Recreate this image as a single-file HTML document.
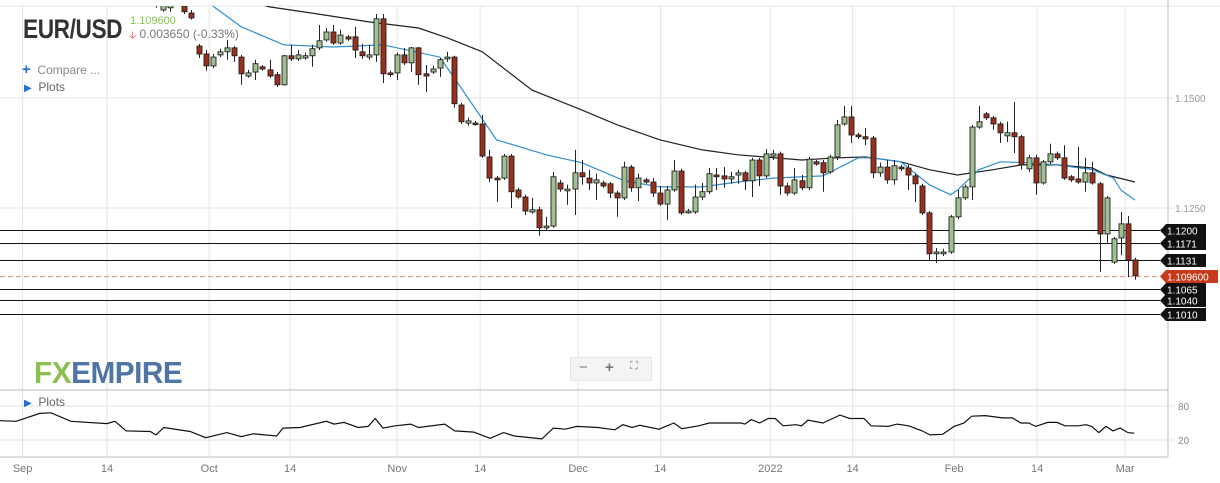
<!DOCTYPE html>
<html><head><meta charset="utf-8">
<style>
html,body{margin:0;padding:0;background:#fff;}
body{width:1220px;height:483px;overflow:hidden;position:relative;font-family:"Liberation Sans",sans-serif;}
svg{position:absolute;left:0;top:0;}
.hdr{position:absolute;}
</style></head>
<body>
<svg id="chart" width="1220" height="483"></svg>
<div class="hdr" style="left:23px;top:14px;font-size:27px;font-weight:bold;color:#333;letter-spacing:-0.5px;transform:scaleX(0.84);transform-origin:0 0;">EUR/USD</div>
<div class="hdr" style="left:130px;top:15px;font-size:11px;color:#8bc34a;">1.109600</div>
<div class="hdr" style="left:129px;top:27px;font-size:12px;color:#777;"><span style="color:#e53935;font-size:10px;">&#129123;</span> 0.003650 (-0.33%)</div>
<div class="hdr" style="left:22px;top:61px;font-size:12px;color:#888;"><span style="color:#1e6fd9;font-weight:bold;font-size:15px;">+</span>&nbsp; Compare ...</div>
<div class="hdr" style="left:24px;top:80px;font-size:12px;color:#666;"><span style="color:#1e6fd9;font-size:10px;">&#9654;</span>&nbsp;&nbsp;Plots</div>
<div class="hdr" style="left:34px;top:355px;font-size:31px;font-weight:bold;letter-spacing:-0.5px;transform:scaleX(0.96);transform-origin:0 0;"><span style="color:#8cc152;">FX</span><span style="color:#4f74a6;">EMPIRE</span></div>
<div class="hdr" style="left:570px;top:357px;width:80px;height:22px;background:#f4f4f4;border:1px solid #e6e6e6;font-size:15px;color:#777;">
<span style="position:absolute;left:8px;top:1px;">&minus;</span>
<span style="position:absolute;left:34px;top:1px;font-weight:bold;">+</span>
<span style="position:absolute;left:59px;top:2px;font-size:11px;">&#x26F6;</span></div>
<div class="hdr" style="left:24px;top:395px;font-size:12px;color:#666;"><span style="color:#1e6fd9;font-size:10px;">&#9654;</span>&nbsp;&nbsp;Plots</div>
<script>
// ---- data ----
const openP=[1.1746,1.1700,1.1705,1.1734,1.1709,1.1693,1.1618,1.1600,1.1573,1.1598,1.1605,1.1614,1.1593,1.1550,1.1559,1.1571,1.1564,1.1553,1.1530,1.1596,1.1589,1.1591,1.1596,1.1614,1.1632,1.1650,1.1625,1.1639,1.1639,1.1605,1.1593,1.1598,1.1680,1.1557,1.1557,1.1598,1.1580,1.1614,1.1555,1.1559,1.1568,1.1589,1.1593,1.1484,1.1443,1.1443,1.1441,1.1366,1.1318,1.1318,1.1368,1.1291,1.1275,1.1241,1.1246,1.1205,1.1209,1.1307,1.1289,1.1293,1.1330,1.1318,1.1307,1.1307,1.1305,1.1284,1.1273,1.1343,1.1296,1.1314,1.1309,1.1284,1.1259,1.1291,1.1334,1.1239,1.1241,1.1275,1.1287,1.1325,1.1323,1.1316,1.1325,1.1330,1.1312,1.1359,1.1323,1.1368,1.1373,1.1300,1.1284,1.1312,1.1296,1.1355,1.1353,1.1332,1.1366,1.1441,1.1457,1.1416,1.1412,1.1409,1.1330,1.1343,1.1314,1.1343,1.1341,1.1323,1.1300,1.1239,1.1146,1.1146,1.1150,1.1230,1.1273,1.1298,1.1434,1.1464,1.1455,1.1441,1.1414,1.1421,1.1412,1.1339,1.1364,1.1307,1.1355,1.1373,1.1364,1.1321,1.1316,1.1309,1.1330,1.1305,1.1191,1.1127,1.1182,1.1214,1.1132];
const closeP=[1.1712,1.1734,1.1741,1.1718,1.1696,1.1682,1.1600,1.1573,1.1593,1.1605,1.1614,1.1596,1.1555,1.1557,1.1578,1.1566,1.1550,1.1530,1.1596,1.1589,1.1598,1.1596,1.1612,1.1630,1.1650,1.1625,1.1643,1.1634,1.1609,1.1596,1.1598,1.1680,1.1555,1.1553,1.1598,1.1580,1.1614,1.1553,1.1550,1.1566,1.1587,1.1593,1.1487,1.1446,1.1448,1.1441,1.1368,1.1318,1.1314,1.1368,1.1287,1.1275,1.1243,1.1246,1.1205,1.1209,1.1321,1.1293,1.1293,1.1330,1.1321,1.1307,1.1314,1.1300,1.1284,1.1273,1.1343,1.1296,1.1318,1.1309,1.1284,1.1259,1.1291,1.1334,1.1239,1.1243,1.1275,1.1287,1.1328,1.1321,1.1316,1.1321,1.1330,1.1312,1.1359,1.1323,1.1373,1.1373,1.1300,1.1284,1.1314,1.1296,1.1361,1.1350,1.1330,1.1366,1.1439,1.1457,1.1416,1.1412,1.1407,1.1330,1.1343,1.1314,1.1346,1.1339,1.1325,1.1305,1.1239,1.1146,1.1150,1.1150,1.1230,1.1273,1.1298,1.1434,1.1446,1.1455,1.1441,1.1421,1.1421,1.1412,1.1348,1.1364,1.1307,1.1355,1.1373,1.1364,1.1318,1.1314,1.1309,1.1330,1.1307,1.1191,1.1273,1.1180,1.1214,1.1132,1.1096];
const highP=[1.1757,1.1746,1.1750,1.1741,1.1714,1.1700,1.1623,1.1609,1.1600,1.1612,1.1632,1.1618,1.1598,1.1564,1.1587,1.1575,1.1587,1.1559,1.1598,1.1621,1.1609,1.1603,1.1621,1.1666,1.1659,1.1666,1.1655,1.1643,1.1662,1.1623,1.1621,1.1691,1.1691,1.1562,1.1603,1.1614,1.1616,1.1616,1.1575,1.1573,1.1591,1.1605,1.1596,1.1489,1.1455,1.1448,1.1462,1.1382,1.1323,1.1373,1.1373,1.1296,1.1280,1.1273,1.1253,1.1230,1.1332,1.1314,1.1303,1.1382,1.1359,1.1337,1.1328,1.1312,1.1309,1.1289,1.1355,1.1348,1.1328,1.1318,1.1318,1.1300,1.1300,1.1359,1.1339,1.1248,1.1303,1.1307,1.1341,1.1341,1.1343,1.1332,1.1337,1.1334,1.1364,1.1364,1.1384,1.1382,1.1378,1.1307,1.1341,1.1325,1.1366,1.1359,1.1359,1.1371,1.1450,1.1482,1.1482,1.1421,1.1432,1.1414,1.1353,1.1359,1.1359,1.1348,1.1348,1.1328,1.1305,1.1243,1.1159,1.1157,1.1234,1.1291,1.1303,1.1439,1.1482,1.1468,1.1459,1.1446,1.1446,1.1491,1.1416,1.1371,1.1371,1.1359,1.1396,1.1378,1.1393,1.1325,1.1389,1.1364,1.1355,1.1309,1.1277,1.1184,1.1241,1.1232,1.1137];
const lowP=[1.1705,1.1696,1.1696,1.1714,1.1691,1.1678,1.1591,1.1562,1.1568,1.1593,1.1587,1.1582,1.1530,1.1546,1.1541,1.1562,1.1546,1.1525,1.1528,1.1584,1.1584,1.1587,1.1571,1.1609,1.1628,1.1621,1.1621,1.1630,1.1591,1.1589,1.1587,1.1582,1.1534,1.1548,1.1541,1.1575,1.1559,1.1530,1.1514,1.1555,1.1548,1.1582,1.1478,1.1441,1.1437,1.1437,1.1364,1.1309,1.1264,1.1314,1.1250,1.1271,1.1234,1.1237,1.1187,1.1200,1.1205,1.1287,1.1257,1.1234,1.1303,1.1291,1.1268,1.1296,1.1273,1.1230,1.1268,1.1287,1.1266,1.1305,1.1275,1.1255,1.1223,1.1287,1.1234,1.1237,1.1237,1.1268,1.1282,1.1291,1.1296,1.1305,1.1305,1.1291,1.1275,1.1300,1.1318,1.1359,1.1280,1.1278,1.1280,1.1291,1.1291,1.1346,1.1287,1.1328,1.1359,1.1437,1.1398,1.1407,1.1393,1.1318,1.1321,1.1305,1.1303,1.1334,1.1291,1.1264,1.1234,1.1132,1.1125,1.1141,1.1146,1.1225,1.1268,1.1268,1.1430,1.1450,1.1428,1.1398,1.1400,1.1375,1.1337,1.1332,1.1280,1.1303,1.1350,1.1359,1.1314,1.1309,1.1305,1.1287,1.1303,1.1105,1.1171,1.1123,1.1143,1.1093,1.1087];
const ma20Idx=[4,8,12,18,25,32,40,43,48,55,60,66,71,77,82,87,94,99,101,105,109,112,113,116,119,123,127,132,135,136,138];
const ma20Val=[1.1760,1.1709,1.1662,1.1621,1.1616,1.1621,1.1593,1.1523,1.1405,1.1371,1.1353,1.1312,1.1298,1.1298,1.1309,1.1318,1.1323,1.1364,1.1364,1.1355,1.1303,1.1280,1.1291,1.1337,1.1355,1.1353,1.1348,1.1337,1.1318,1.1291,1.1268];
const ma50Idx=[10,16,22,30,37,41,46,53,60,65,71,77,82,91,96,100,105,109,113,118,122,127,132,134,138];
const ma50Val=[1.1735,1.1707,1.1693,1.1673,1.1659,1.1637,1.1605,1.1518,1.1473,1.1439,1.1405,1.1382,1.1371,1.1359,1.1364,1.1366,1.1355,1.1337,1.1325,1.1337,1.1348,1.1348,1.1341,1.1325,1.1309];
const levels=[1.1200,1.1171,1.1131,1.1065,1.1040,1.1010];
const levelLabels=["1.1200","1.1171","1.1131","1.1065","1.1040","1.1010"];
const lastPrice=1.1096;
const lastLabel="1.109600";
const priceTicks=[1.1500,1.1250];
const priceTickLabels=["1.1500","1.1250"];
const oscIdx=[-22,-19.7,-16.4,-14.8,-12,-6.9,-5.8,-4.2,-0.8,0,1.1,4.8,7,10,12,13.7,17,17.9,20.3,24,25.1,26.5,28.5,29.9,30.9,32,33.7,35.9,37,40.7,42.1,44.8,47.1,49,50.5,54.4,56,57.7,59.3,62.3,64.7,65.8,67.1,68.2,70.9,73,74.1,76.5,78,82.5,83,83.9,85.1,86.3,87.3,88.4,90.2,91,91.9,94,96.4,97.8,99.8,100.8,103.2,104.5,106.1,108,109.1,110.9,112.5,113.9,115,116.9,119.3,120.7,121.9,123,124,125.7,127,128.1,130,131.1,131.9,132.9,133.9,134.9,135.9,137,137.9];
const oscVal=[54,53,67,68,53,49,53,36,35,29,42,35,24,33,26,31,27,41,42,53,48,51,42,44,58,41,45,48,42,48,36,34,23,33,27,22,41,39,44,42,38,47,42,46,39,50,40,45,50,50,48,56,50,58,58,45,47,45,55,50,64,58,58,45,44,48,45,36,29,30,44,50,62,63,59,59,50,50,44,51,51,45,45,47,44,33,44,36,41,33,32];
const oscTicks=[80,20];
const dateTickIdx=[-18.8,-6.9,7.5,18.9,34,45.7,59.5,71.1,86.6,98.2,112.5,124.2,136.6];
const dateTickLabels=["Sep","14","Oct","14","Nov","14","Dec","14","2022","14","Feb","14","Mar"];
</script>
<script>
const NS="http://www.w3.org/2000/svg";
const svg=document.getElementById('chart');
const X0=156, DX=(1135-156)/138;
function xs(i){return X0+i*DX;}
function ys(p){return 98+(1.15-p)*4400;}
function yo(v){return 440-(v-20)*0.5667;}
function mk(tag,attrs,parent){const e=document.createElementNS(NS,tag);for(const k in attrs)e.setAttribute(k,attrs[k]);(parent||svg).appendChild(e);return e;}
const defs=mk('defs',{});
const cp=mk('clipPath',{id:'mainclip'},defs);
mk('rect',{x:0,y:6,width:1168,height:378},cp);
let e;
e=mk('line',{x1:0,y1:6,x2:1220,y2:6,stroke:'#e6e6e6'});


dateTickIdx.forEach((d,k)=>{
 const g=mk('line',{x1:xs(d),y1:6,x2:xs(d),y2:457,stroke:'#e4e4e4'});
 
 
 const t=mk('text',{x:xs(d),y:472,'font-size':11,fill:'#777','text-anchor':'middle','font-family':'Liberation Sans, sans-serif'});
 t.textContent=dateTickLabels[k];
 
 
});
priceTicks.forEach((p,k)=>{
 const g=mk('line',{x1:0,y1:ys(p),x2:1174,y2:ys(p),stroke:'#e4e4e4'});
 
 
 const t=mk('text',{x:1175,y:ys(p)+4,'font-size':10,fill:'#999','font-family':'Liberation Sans, sans-serif'});
 t.textContent=priceTickLabels[k];
 
 
});
[[0,390,1168,390],[0,457,1168,457],[1168,0,1168,457]].forEach(a=>{
 const l=mk('line',{x1:a[0],y1:a[1],x2:a[2],y2:a[3],stroke:'#bbb'});
 
 
});
levels.forEach((p,k)=>{
 const y=Math.round(ys(p))+0.5;
 const l=mk('line',{x1:0,y1:y,x2:1160,y2:y,stroke:'#111','stroke-width':1});
 
 
});
{
 const y=Math.round(ys(lastPrice))+0.5;
 const l=mk('line',{x1:0,y1:y,x2:1160,y2:y,stroke:'#e0a090','stroke-width':1.3,'stroke-dasharray':'5,3'});
 
 
}
const mainG=mk('g',{'clip-path':'url(#mainclip)'});
function maLine(idx,val,color,name){
 const d=idx.map((i,k)=>(k?'L':'M')+xs(i).toFixed(1)+','+ys(val[k]).toFixed(1)).join(' ');
 const p=mk('path',{d:d,fill:'none',stroke:color,'stroke-width':1.2},mainG);
 
 
}
maLine(ma50Idx,ma50Val,'#222','ma-50-line');
maLine(ma20Idx,ma20Val,'#2f8fd0','ma-20-line');
openP.forEach((o,i)=>{
 const c=closeP[i],h=highP[i],l=lowP[i];
 const x=Math.round(xs(i))+0.5;
 const up=c>=o;
 const w=mk('line',{x1:x,y1:ys(h),x2:x,y2:ys(l),stroke:'#222','stroke-width':1},mainG);
 
 
 const top=ys(Math.max(o,c)),bot=ys(Math.min(o,c));
 const r=mk('rect',{x:x-2.5,y:top,width:5,height:Math.max(1.5,bot-top),fill:up?'#9fc08f':'#9a2f1c',stroke:'#222','stroke-width':0.9},mainG);
 
 
});
function tag(y,label,color,w,name){
 y=Math.round(y)+0.5;
 const p=mk('path',{d:`M1160,${y} L1166,${y-6.5} L${1160+w},${y-6.5} L${1160+w},${y+6.5} L1166,${y+6.5} Z`,fill:color});
 
 
 const t=mk('text',{x:1167,y:y+3.8,'font-size':10,fill:'#fff','font-family':'Liberation Sans, sans-serif'});
 t.textContent=label;
 
 
}
levels.forEach((p,k)=>tag(ys(p),levelLabels[k],'#111',46,'level-tag'));
tag(ys(lastPrice),lastLabel,'#c73a1c',58,'last-price-tag');
oscTicks.forEach(v=>{
 const g=mk('line',{x1:0,y1:yo(v),x2:1174,y2:yo(v),stroke:'#e0e0e0'});
 
 
 const t=mk('text',{x:1178,y:yo(v)+4,'font-size':10,fill:'#888','font-family':'Liberation Sans, sans-serif'});
 t.textContent=v;
 
 
});
{
 const d=oscIdx.map((i,k)=>(k?'L':'M')+Math.max(0,xs(i)).toFixed(1)+','+yo(oscVal[k]).toFixed(1)).join(' ');
 const p=mk('path',{d:d,fill:'none',stroke:'#111','stroke-width':1.2});
 
 
}
</script>
</body></html>
